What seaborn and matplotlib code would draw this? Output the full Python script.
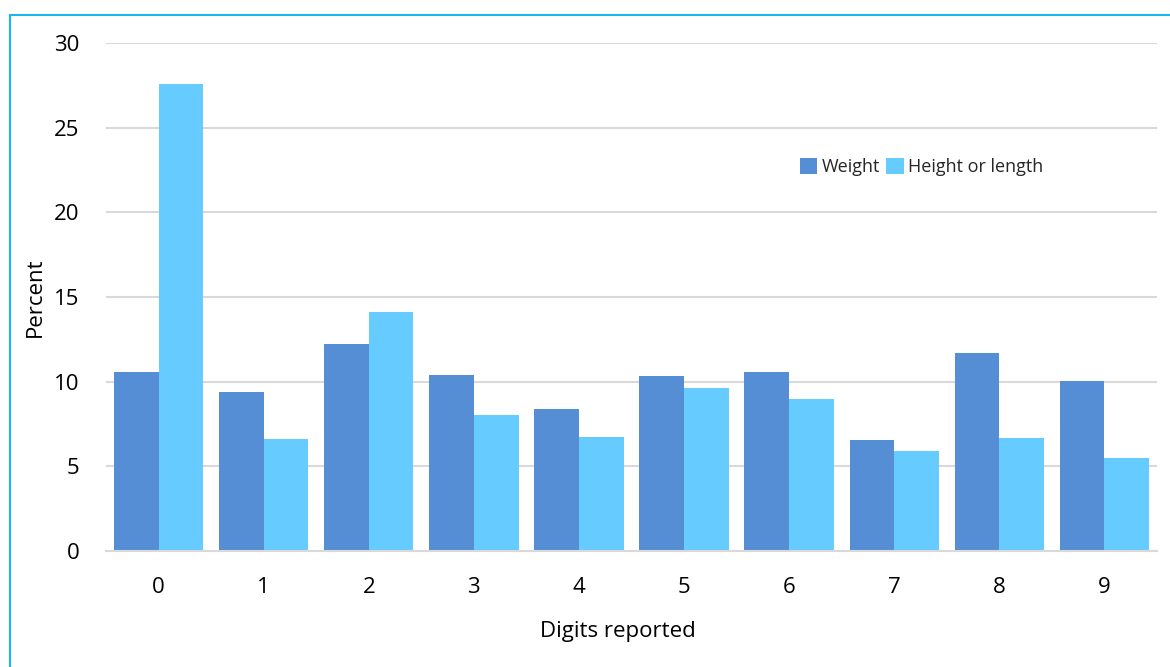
import matplotlib
matplotlib.use("Agg")
import matplotlib.pyplot as plt
import seaborn as sns
import pandas as pd
from matplotlib.patches import Rectangle

digits = ["0", "1", "2", "3", "4", "5", "6", "7", "8", "9"]
weight = [10.6, 9.4, 12.25, 10.4, 8.4, 10.35, 10.6, 6.55, 11.7, 10.05]
height_or_length = [27.6, 6.6, 14.1, 8.05, 6.75, 9.6, 9.0, 5.9, 6.65, 5.5]
series_names = ["Weight", "Height or length"]
colors = ["#558ED5", "#66CCFF"]

df = pd.DataFrame({
    "digit": digits * 2,
    "value": weight + height_or_length,
    "series": [series_names[0]] * len(digits) + [series_names[1]] * len(digits),
})

sns.set_theme(style="white")
plt.rcParams['font.family'] = ['Open Sans', 'DejaVu Sans']

fig = plt.figure(figsize=(11.7, 6.67), dpi=100)
ax = fig.add_axes([106/1170, 1 - 551/667, (1157-106)/1170, (551-43)/667])

sns.barplot(data=df, x="digit", y="value", hue="series", order=digits,
            hue_order=series_names, palette=colors, width=0.85, gap=0,
            saturation=1, ax=ax, legend=True, linewidth=0, edgecolor="none")

ax.set_ylim(0, 30)
ax.set_xlim(-0.5, 9.5)
ax.set_yticks([0, 5, 10, 15, 20, 25, 30])
ax.yaxis.grid(True, color="#d9d9d9", linewidth=1.5)
ax.set_axisbelow(True)
for s in ["top", "right", "left"]:
    ax.spines[s].set_visible(False)
ax.spines["bottom"].set_color("#d9d9d9")
ax.spines["bottom"].set_linewidth(1.5)
ax.tick_params(axis="y", length=0, pad=19, labelsize=16, labelcolor="#000000")
ax.tick_params(axis="x", length=0, pad=19, labelsize=16, labelcolor="#000000")
ax.set_xlabel("Digits reported", fontsize=16, color="#000000")
ax.xaxis.set_label_coords((618 - 106) / 1051, (551 - 621) / 508)
ax.set_ylabel("Percent", fontsize=16, labelpad=6, color="#000000")

handles, labels = ax.get_legend_handles_labels()
ax.legend(handles, labels, loc="center left", bbox_to_anchor=(800/1170, 1 - 167/667),
          bbox_transform=fig.transFigure, ncol=2, frameon=False, fontsize=13,
          handlelength=0.95, handleheight=0.95, handletextpad=0.25, columnspacing=0.35,
          borderaxespad=0, borderpad=0)

fig.patches.append(Rectangle((10/1170, -0.1), 1.2, 1.1 - 15/667,
                             transform=fig.transFigure, fill=False,
                             edgecolor="#1EB4F0", linewidth=1.5, figure=fig))

fig.savefig("out.png", dpi=100)
